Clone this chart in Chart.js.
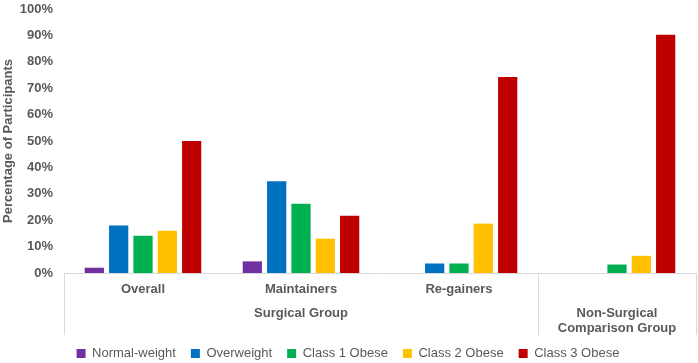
<!DOCTYPE html>
<html>
<head>
<meta charset="utf-8">
<script src="https://cdn.jsdelivr.net/npm/chart.js@4"></script>
<style>
  html, body { margin: 0; padding: 0; background: #fff; }
  #wrap { width: 698px; height: 363px; position: relative; }
</style>
</head>
<body>
<div id="wrap"><canvas id="chart"></canvas></div>
<script>
const categories = ['Overall', 'Maintainers', 'Re-gainers', 'Non-Surgical Comparison Group']
const subLabels = ['Overall', 'Maintainers', 'Re-gainers', '']
const groupLabels = [['Surgical Group'], ['Non-Surgical', 'Comparison Group']]
const groupStart = [0, 3]
const groupEnd = [2, 3]

const seriesNames = ['Normal-weight', 'Overweight', 'Class 1 Obese', 'Class 2 Obese', 'Class 3 Obese']
const normalWeight = [2, 4.4, 0, 0]
const overweight = [18, 34.8, 3.6, 0]
const class1 = [14.1, 26.2, 3.6, 3.2]
const class2 = [16, 13, 18.7, 6.5]
const class3 = [50, 21.7, 74.2, 90.2]
const yTicks = [0, 10, 20, 30, 40, 50, 60, 70, 80, 90, 100]

const colors = ['#7030A0', '#0070C0', '#00B050', '#FFC000', '#C00000']
const textGray = '#595959'
const lineGray = '#d9d9d9'

const allValues = [normalWeight, overweight, class1, class2, class3]

const datasets = seriesNames.map((name, i) => ({
  label: name,
  data: allValues[i],
  backgroundColor: colors[i],
  borderWidth: 0,
  categoryPercentage: 0.77,
  barPercentage: 0.79
}))

// draws the two-level category axis and its separators
const groupAxis = {
  id: 'groupAxis',
  afterDraw(chart) {
    const ctx = chart.ctx
    const x = chart.scales.x
    const bottom = chart.chartArea.bottom
    const half = (x.getPixelForValue(1) - x.getPixelForValue(0)) / 2
    ctx.save()
    ctx.fillStyle = textGray
    ctx.font = 'bold 13px "Liberation Sans", Arial, sans-serif'
    ctx.textAlign = 'center'
    ctx.textBaseline = 'middle'
    subLabels.forEach((lab, i) => {
      if (lab) ctx.fillText(lab, x.getPixelForValue(i), bottom + 16)
    })
    groupLabels.forEach((lines, g) => {
      const cx = (x.getPixelForValue(groupStart[g]) + x.getPixelForValue(groupEnd[g])) / 2
      lines.forEach((t, k) => ctx.fillText(t, cx, bottom + 40 + k * 15))
    })
    ctx.strokeStyle = lineGray
    ctx.lineWidth = 1
    const edges = [x.getPixelForValue(0) - half]
    groupEnd.forEach(e => edges.push(x.getPixelForValue(e) + half))
    edges.forEach(ex => {
      const px = Math.round(ex) + 0.5
      ctx.beginPath()
      ctx.moveTo(px, bottom)
      ctx.lineTo(px, bottom + 62)
      ctx.stroke()
    })
    ctx.restore()
  }
}

new Chart(document.getElementById('chart'), {
  type: 'bar',
  data: { labels: categories, datasets: datasets },
  options: {
    responsive: true,
    maintainAspectRatio: false,
    animation: false,
    layout: { padding: { top: 0, right: 2, left: 0, bottom: -7 } },
    plugins: {
      tooltip: { enabled: false },
      legend: {
        position: 'bottom',
        labels: {
          boxWidth: 9,
          boxHeight: 9,
          padding: 15,
          color: textGray,
          font: { family: '"Liberation Sans", Arial, sans-serif', size: 13 }
        }
      }
    },
    scales: {
      x: {
        grid: { display: false },
        border: { display: true, color: lineGray },
        ticks: { display: false },
        afterFit(scale) { scale.height = 59 }
      },
      y: {
        min: 0,
        max: 100,
        afterBuildTicks(scale) { scale.ticks = yTicks.map(v => ({ value: v })) },
        afterFit(scale) {
          scale.width = 64
          scale.paddingTop = 9
          scale.paddingBottom = 8
        },
        grid: { display: false, drawTicks: false },
        border: { display: false },
        ticks: {
          padding: 11,
          color: textGray,
          font: { family: '"Liberation Sans", Arial, sans-serif', size: 13, weight: 'bold' },
          callback: v => v + '%'
        },
        title: {
          display: true,
          text: 'Percentage of Participants',
          color: textGray,
          padding: { top: 1, bottom: 0 },
          font: { family: '"Liberation Sans", Arial, sans-serif', size: 13, weight: 'bold' }
        }
      }
    }
  },
  plugins: [groupAxis]
})
</script>
</body>
</html>
